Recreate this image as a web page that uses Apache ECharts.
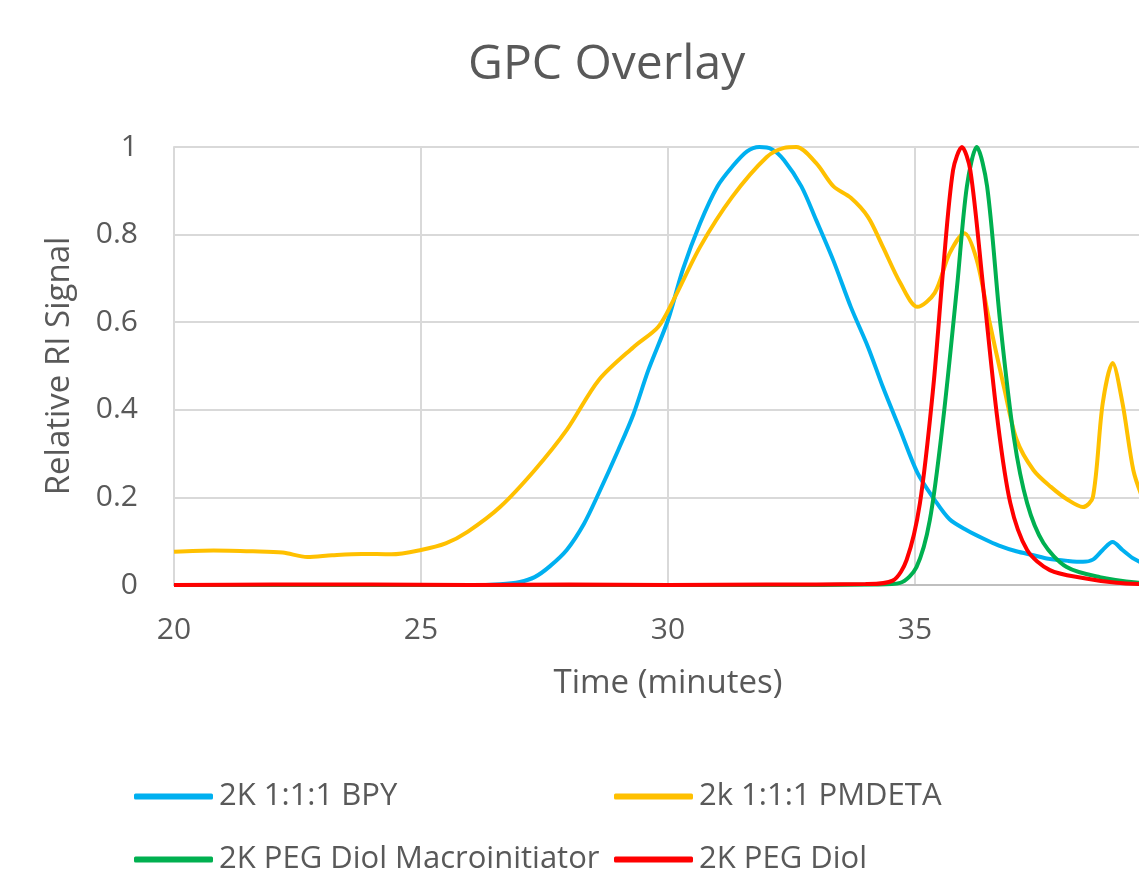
<!DOCTYPE html>
<html>
<head>
<meta charset="utf-8">
<title>GPC Overlay</title>
<script src="https://cdn.jsdelivr.net/npm/echarts@6/dist/echarts.min.js"></script>
<style>
  html, body { margin: 0; padding: 0; background: #fff; }
  #chart { width: 1139px; height: 871px; }
</style>
</head>
<body>
<div id="chart"></div>
<script>
// values (time in minutes, relative RI signal)
const seriesNames = ['2K 1:1:1 BPY', '2k 1:1:1 PMDETA', '2K PEG Diol Macroinitiator', '2K PEG Diol'];
const seriesColors = ['#00b0f0', '#ffc000', '#00b050', '#ff0000'];

const bpyT = [20, 22, 24, 26, 26.6, 27.0, 27.3, 27.6, 27.95, 28.3, 28.6, 29.0, 29.3, 29.6, 30.0, 30.3, 30.65, 31.0, 31.3, 31.6, 31.85, 32.1, 32.35, 32.7, 33.0, 33.35, 33.7, 34.05, 34.35, 34.7, 35.05, 35.4, 35.7, 36.05, 36.4, 36.7, 37.05, 37.4, 37.7, 38.1, 38.4, 38.6, 38.8, 39.0, 39.2, 39.4, 39.6];
const bpyY = [0, 0, 0, 0, 0.002, 0.007, 0.018, 0.042, 0.08, 0.14, 0.21, 0.31, 0.39, 0.49, 0.605, 0.72, 0.826, 0.91, 0.955, 0.99, 1.0, 0.995, 0.97, 0.91, 0.833, 0.74, 0.635, 0.543, 0.452, 0.354, 0.256, 0.194, 0.15, 0.125, 0.105, 0.09, 0.077, 0.068, 0.06, 0.055, 0.053, 0.058, 0.08, 0.098, 0.08, 0.062, 0.05];

const pmdetaT = [20, 20.8, 21.6, 22.2, 22.7, 23.2, 23.8, 24.4, 25.0, 25.5, 25.95, 26.6, 27.3, 27.95, 28.6, 29.3, 29.8, 30.1, 30.65, 31.3, 32.0, 32.35, 32.6, 33.0, 33.35, 33.7, 34.05, 34.35, 34.7, 35.05, 35.4, 35.7, 36.0, 36.25, 36.5, 36.8, 37.06, 37.4, 37.75, 38.1, 38.4, 38.6, 38.8, 39.0, 39.2, 39.42, 39.6];
const pmdetaY = [0.076, 0.079, 0.077, 0.074, 0.064, 0.068, 0.071, 0.070, 0.08, 0.095, 0.122, 0.178, 0.262, 0.354, 0.468, 0.543, 0.589, 0.648, 0.772, 0.886, 0.977, 0.998, 1.0, 0.963, 0.91, 0.884, 0.84, 0.772, 0.69, 0.635, 0.667, 0.757, 0.803, 0.742, 0.605, 0.452, 0.331, 0.262, 0.224, 0.194, 0.178, 0.2, 0.415, 0.507, 0.415, 0.262, 0.2];

const macroT = [20, 24, 28, 32, 34.2, 34.7, 35.03, 35.3, 35.57, 35.85, 36.05, 36.25, 36.46, 36.72, 37.0, 37.27, 37.6, 38.07, 38.74, 39.6];
const macroY = [0, 0, 0, 0, 0.001, 0.005, 0.041, 0.148, 0.377, 0.68, 0.91, 1.0, 0.91, 0.605, 0.338, 0.187, 0.096, 0.041, 0.018, 0.004];

const diolT = [20, 22, 24, 26, 28, 30, 32, 34.0, 34.55, 34.83, 35.1, 35.37, 35.57, 35.77, 35.95, 36.12, 36.38, 36.67, 36.93, 37.27, 37.73, 38.4, 39.08, 39.6];
const diolY = [0, 0.001, 0.001, 0, 0.001, 0, 0.001, 0.002, 0.01, 0.057, 0.187, 0.452, 0.72, 0.947, 1.0, 0.947, 0.68, 0.377, 0.187, 0.08, 0.034, 0.016, 0.005, 0.002];

const xTicks = [20, 25, 30, 35, 40];
const yTicks = [0, 0.2, 0.4, 0.6, 0.8, 1];

const font = '"Open Sans", "Noto Sans", sans-serif';
const textColor = '#595959';

const chart = echarts.init(document.getElementById('chart'));

const pairs = (t, y) => t.map((v, i) => [v, y[i]]);
const allData = [pairs(bpyT, bpyY), pairs(pmdetaT, pmdetaY), pairs(macroT, macroY), pairs(diolT, diolY)];

// one legend box per item so the two-column layout lines up like the original
const legendPos = [[134, 781], [614, 781], [134, 844], [614, 844]];
const legends = seriesNames.map((name, i) => ({
  data: [name],
  left: legendPos[i][0],
  top: legendPos[i][1],
  orient: 'horizontal',
  itemWidth: 79,
  itemHeight: 6,
  itemGap: 0,
  padding: 0,
  icon: 'roundRect',
  selectedMode: false,
  textStyle: { fontFamily: font, fontSize: 31, color: textColor, padding: [0, 0, 0, 1] }
}));

chart.setOption({
  animation: false,
  backgroundColor: '#fff',
  title: {
    text: 'GPC Overlay',
    left: 463,
    top: 36,
    textStyle: { fontFamily: font, fontSize: 48, fontWeight: 'normal', color: textColor }
  },
  legend: legends,
  grid: { left: 174, top: 147, width: 988, height: 438, outerBoundsMode: 'none', containLabel: false },
  xAxis: {
    type: 'value',
    min: xTicks[0],
    max: xTicks[xTicks.length - 1],
    interval: 5,
    name: 'Time (minutes)',
    nameLocation: 'middle',
    nameGap: 82,
    nameTextStyle: { fontFamily: font, fontSize: 33, color: textColor },
    axisLine: { show: true, lineStyle: { color: '#bfbfbf', width: 2 } },
    axisTick: { show: false },
    axisLabel: { fontFamily: font, fontSize: 30, color: textColor, margin: 30 },
    splitLine: { show: true, lineStyle: { color: '#d9d9d9', width: 2 } }
  },
  yAxis: {
    type: 'value',
    min: yTicks[0],
    max: yTicks[yTicks.length - 1],
    interval: 0.2,
    name: 'Relative RI Signal',
    nameLocation: 'middle',
    nameGap: 98,
    nameTextStyle: { fontFamily: font, fontSize: 33, color: textColor },
    axisLine: { show: true, lineStyle: { color: '#d9d9d9', width: 2 } },
    axisTick: { show: false },
    axisLabel: {
      fontFamily: font, fontSize: 30, color: textColor, margin: 36,
      formatter: v => String(Math.round(v * 10) / 10)
    },
    splitLine: { show: true, lineStyle: { color: '#d9d9d9', width: 2 } }
  },
  series: seriesNames.map((name, i) => ({
    name,
    type: 'line',
    data: allData[i],
    smooth: 0.3,
    showSymbol: false,
    symbol: 'none',
    color: seriesColors[i],
    lineStyle: { color: seriesColors[i], width: 4 },
    z: 2 + i
  }))
});
</script>
</body>
</html>
